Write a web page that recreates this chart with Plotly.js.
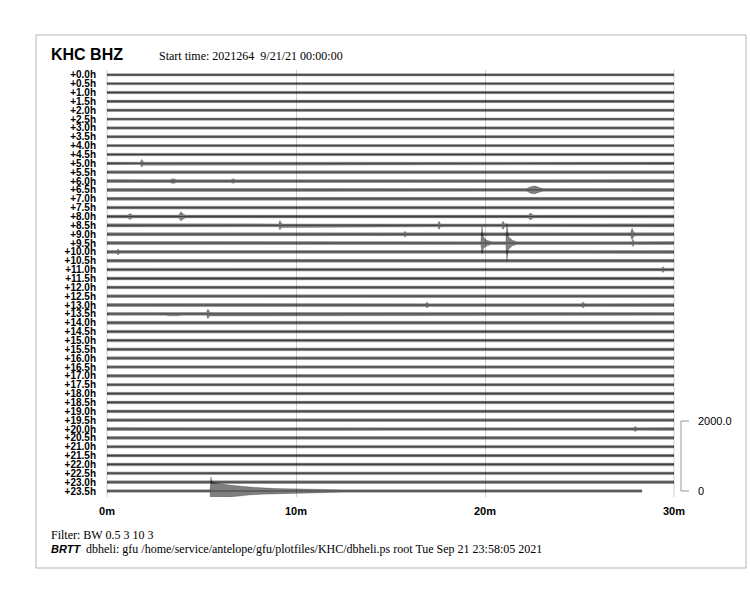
<!DOCTYPE html>
<html><head><meta charset="utf-8">
<script src="https://cdn.plot.ly/plotly-3.0.1.min.js"></script>
<style>html,body{margin:0;padding:0;background:#fff}</style>
</head><body><div id="chart" style="width:750px;height:600px"></div>
<script>
const stationText = 'KHC BHZ';
const startText = 'Start time: 2021264\u00a0\u00a09/21/21 00:00:00';
const filterText = 'Filter: BW 0.5 3 10 3';
const brttText = 'BRTT';
const footerText = 'dbheli: gfu /home/service/antelope/gfu/plotfiles/KHC/dbheli.ps root Tue Sep 21 23:58:05 2021';

const rowLabels = ['+0.0h','+0.5h','+1.0h','+1.5h','+2.0h','+2.5h','+3.0h','+3.5h','+4.0h','+4.5h',
  '+5.0h','+5.5h','+6.0h','+6.5h','+7.0h','+7.5h','+8.0h','+8.5h','+9.0h','+9.5h',
  '+10.0h','+10.5h','+11.0h','+11.5h','+12.0h','+12.5h','+13.0h','+13.5h','+14.0h','+14.5h',
  '+15.0h','+15.5h','+16.0h','+16.5h','+17.0h','+17.5h','+18.0h','+18.5h','+19.0h','+19.5h',
  '+20.0h','+20.5h','+21.0h','+21.5h','+22.0h','+22.5h','+23.0h','+23.5h'];
const xTickVals = [0, 10, 20, 30];
const xTickText = ['0m', '10m', '20m', '30m'];
const rowSpacing = 253;          // counts between trace baselines
const scaleVals = [0, 2000];
const scaleText = ['0', '2000.0'];
const lastRowEnd = 28.3;         // minutes of data in last row

// background noise half-amplitude (counts) per row
const noiseAmp = [32,32,34,36,36,34,34,34,32,34,
  36,40,42,42,42,42,42,44,44,42,
  42,42,42,40,40,40,42,42,44,42,
  40,40,40,38,40,38,38,38,40,38,
  40,40,38,38,40,38,38,38];

// events: row index and envelope knots [minute, up, down]
const eventRows = [10,12,12,13,16,16,16,17,17,17,18,18,19,19,19,20,22,26,26,27,27,28,40,47];
const eventKnots = [
  [[1.76,34],[1.84,115,110],[1.9,55],[1.98,34]],
  [[3.3,40],[3.5,70],[3.7,40]],
  [[6.55,40],[6.67,70,65],[6.8,40]],
  [[22.2,40],[22.45,100],[22.65,115,110],[22.9,60],[23.1,40]],
  [[1.1,40],[1.22,85],[1.35,40]],
  [[3.8,40],[3.92,140,130],[4.0,80],[4.15,40]],
  [[22.3,40],[22.4,100],[22.55,40]],
  [[9.08,42],[9.15,140,135],[9.22,60],[9.3,42]],
  [[17.5,42],[17.57,115],[17.65,42]],
  [[20.88,42],[20.95,115],[21.05,42]],
  [[15.7,42],[15.77,85],[15.85,42]],
  [[27.7,42],[27.78,170,160],[27.86,70],[27.95,42]],
  [[19.78,40],[19.84,485,315],[19.92,160,150],[20.1,80],[20.35,40]],
  [[21.1,40],[21.16,570,515],[21.24,180],[21.45,80],[21.7,40]],
  [[27.76,40],[27.83,100],[27.9,40]],
  [[0.5,40],[0.58,85],[0.68,40]],
  [[29.35,40],[29.42,85],[29.5,40]],
  [[16.85,40],[16.93,85],[17.02,40]],
  [[25.1,40],[25.19,85],[25.28,40]],
  [[3.1,40],[3.3,55],[3.8,55],[3.95,40]],
  [[5.26,40],[5.34,140,135],[5.42,60],[5.5,40]],
  [[6.6,42],[6.7,55],[11.6,55],[11.7,42]],
  [[27.85,38],[27.95,70],[28.05,38]],
  [[5.45,36],[5.5,400,570],[5.56,260],[5.7,230],[6.0,200],[6.5,170],[7.0,140],[7.5,115],[8.2,90],[9.0,70],[10.0,55],[11.5,45],[12.5,36]]
];

const nRows = rowLabels.length;
const baseOf = k => (nRows - 1 - k) * rowSpacing;
const traces = [];
for (let k = 0; k < nRows; k++) {
  const n = noiseAmp[k];
  const end = (k === nRows - 1) ? lastRowEnd : 30;
  let knots = [[0, n, n]];
  eventRows.forEach((r, i) => { if (r === k) eventKnots[i].forEach(p => knots.push([p[0], p[1], p.length > 2 ? p[2] : p[1]])); });
  knots.push([end, n, n]);
  knots.sort((a, b) => a[0] - b[0]);
  const b = baseOf(k);
  const xs = [], ys = [];
  knots.forEach(p => { xs.push(p[0]); ys.push(b + p[1]); });
  for (let i = knots.length - 1; i >= 0; i--) { xs.push(knots[i][0]); ys.push(b - knots[i][2]); }
  xs.push(knots[0][0]); ys.push(b + knots[0][1]);
  traces.push({type: 'scatter', mode: 'lines', x: xs, y: ys, fill: 'toself',
    fillcolor: 'rgba(0,0,0,0.5)',
    line: {color: 'rgba(0,0,0,0.5)', width: 0.4},
    hoverinfo: 'skip', showlegend: false});
  traces.push({type: 'scatter', mode: 'lines', x: [0, end], y: [b, b],
    line: {color: 'rgba(0,0,0,0.5)', width: 1}, hoverinfo: 'skip', showlegend: false});
}

const L = 107, R = 674, T = 70, B = 497;
const px = X => (X - L) / (R - L);
const py = Y => (B - Y) / (B - T);
const cpp = 2000 / 70;  // counts per pixel
const lastBasePix = 491;

const layout = {
  width: 750, height: 600,
  margin: {l: L, r: 750 - R, t: T, b: 600 - B},
  paper_bgcolor: '#fff', plot_bgcolor: '#fff',
  showlegend: false,
  xaxis: {range: [0, 30], tickvals: xTickVals, ticktext: xTickText, showgrid: true,
    gridcolor: '#cfcfcf', gridwidth: 1, zeroline: false, showline: false, ticks: '',
    ticklabelstandoff: 6,
    tickfont: {family: 'Liberation Sans, Arial, sans-serif', size: 11, color: '#000', weight: 'bold'}},
  yaxis: {range: [-(B - lastBasePix) * cpp, (lastBasePix - T) * cpp],
    tickvals: rowLabels.map((_, k) => baseOf(k)), ticktext: rowLabels,
    showgrid: false, zeroline: false, showline: false, ticks: '', ticklabelstandoff: 10,
    tickfont: {family: 'Liberation Sans, Arial, sans-serif', size: 10, color: '#000', weight: 'bold'}},
  shapes: [
    {type: 'rect', xref: 'paper', yref: 'paper', x0: px(36), x1: px(746), y0: py(568), y1: py(35),
      line: {color: '#b4b4b4', width: 1}},
    {type: 'line', xref: 'paper', yref: 'paper', x0: 0, x1: 0, y0: 0, y1: 1,
      line: {color: '#cfcfcf', width: 1}, layer: 'below'},
    {type: 'line', xref: 'paper', yref: 'paper', x0: 1, x1: 1, y0: 0, y1: 1,
      line: {color: '#cfcfcf', width: 1}, layer: 'below'},
    {type: 'line', xref: 'paper', yref: 'y', x0: px(681), x1: px(681), y0: scaleVals[0], y1: scaleVals[1],
      line: {color: '#999', width: 1}},
    {type: 'line', xref: 'paper', yref: 'y', x0: px(681), x1: px(689), y0: scaleVals[0], y1: scaleVals[0],
      line: {color: '#999', width: 1}},
    {type: 'line', xref: 'paper', yref: 'y', x0: px(681), x1: px(689), y0: scaleVals[1], y1: scaleVals[1],
      line: {color: '#999', width: 1}}
  ],
  annotations: [
    {text: stationText, xref: 'paper', yref: 'paper', x: px(49), y: py(55), xanchor: 'left', yanchor: 'middle',
      showarrow: false, font: {family: 'Liberation Sans, Arial, sans-serif', size: 16, color: '#000', weight: 'bold'}},
    {text: startText, xref: 'paper', yref: 'paper', x: px(157), y: py(56), xanchor: 'left', yanchor: 'middle',
      showarrow: false, font: {family: 'Liberation Serif, Times New Roman, serif', size: 12, color: '#000'}},
    {text: filterText, xref: 'paper', yref: 'paper', x: px(49), y: py(535), xanchor: 'left', yanchor: 'middle',
      showarrow: false, font: {family: 'Liberation Serif, Times New Roman, serif', size: 12, color: '#000'}},
    {text: '<i>' + brttText + '</i>', xref: 'paper', yref: 'paper', x: px(49), y: py(549), xanchor: 'left', yanchor: 'middle',
      showarrow: false, font: {family: 'Liberation Sans, Arial, sans-serif', size: 11, color: '#000', weight: 'bold'}},
    {text: footerText, xref: 'paper', yref: 'paper', x: px(84), y: py(549), xanchor: 'left', yanchor: 'middle',
      showarrow: false, font: {family: 'Liberation Serif, Times New Roman, serif', size: 12, color: '#000'}},
    {text: scaleText[1], xref: 'paper', yref: 'y', x: px(696), y: scaleVals[1], xanchor: 'left', yanchor: 'middle',
      showarrow: false, font: {family: 'Liberation Sans, Arial, sans-serif', size: 11, color: '#000'}},
    {text: scaleText[0], xref: 'paper', yref: 'y', x: px(696), y: scaleVals[0], xanchor: 'left', yanchor: 'middle',
      showarrow: false, font: {family: 'Liberation Sans, Arial, sans-serif', size: 11, color: '#000'}}
  ]
};

Plotly.newPlot('chart', traces, layout, {displayModeBar: false, staticPlot: true});
</script>
</body></html>
